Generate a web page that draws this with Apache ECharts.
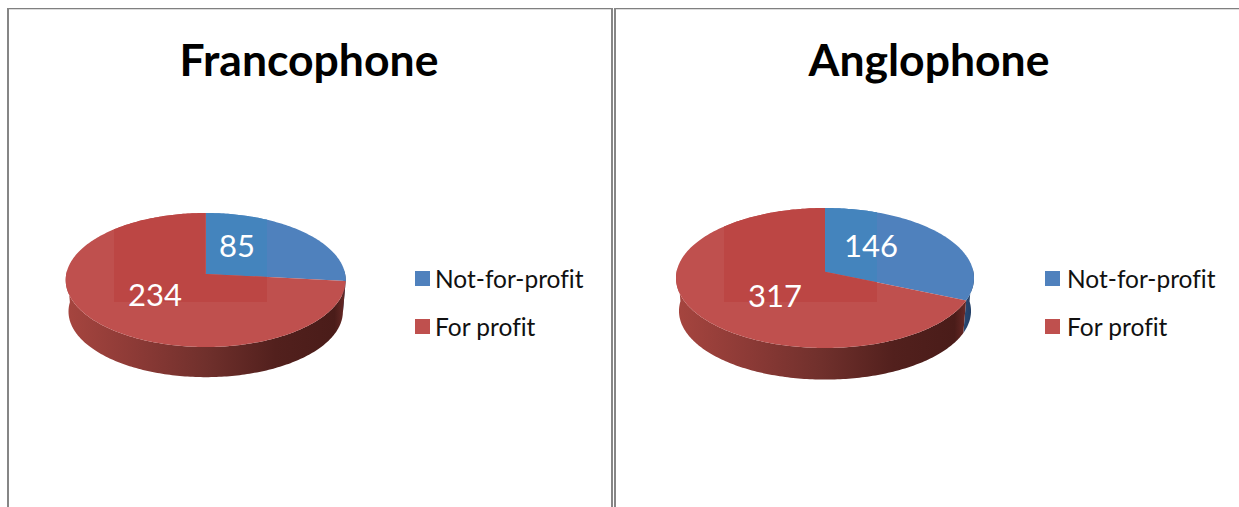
<!DOCTYPE html>
<html>
<head>
<meta charset="utf-8">
<style>
  html, body { margin: 0; padding: 0; background: #fff; }
  #chart { width: 1239px; height: 507px; }
  #chart text { font-variant-ligatures: none !important; }
</style>
<script src="https://cdn.jsdelivr.net/npm/echarts@6/dist/echarts.min.js"></script>
</head>
<body>
<div id="chart"></div>
<script>
var categories = ['Not-for-profit', 'For profit']
var panelTitles = ['Francophone', 'Anglophone']
var francophoneValues = [85, 234]
var anglophoneValues = [146, 317]

var FONT = 'Lato'
var topColors = ['#4f81bd', '#bf504e']
var patchColors = ['#4484bd', '#bc4644']
var wallColors = [
  [[0, '#2a4a75'], [1, '#1f3a5f']],
  [[0, '#a6453f'], [0.25, '#8c3a36'], [0.5, '#70302c'], [0.75, '#52201d'], [0.96, '#4a1c19'], [1, '#6a2a27']]
]

// one entry per pie, where it sits on the page
var pies = [
  { values: francophoneValues, cx: 205.7, cy: 280, rx: 140, ry: 67, depth: 31.5, tilt: -0.09,
    patch: { x: 114, y: 205, width: 153, height: 97 }, labels: [[237, 245], [155, 294]] },
  { values: anglophoneValues, cx: 825, cy: 278, rx: 149, ry: 70, depth: 33, tilt: -0.09,
    patch: { x: 724, y: 200, width: 153, height: 102 }, labels: [[871, 245], [775, 295]] }
]

// circle point (clockwise from 12 o'clock) to the tilted ellipse, centre shifted for perspective
function project (pie, deg) {
  var a = deg * Math.PI / 180
  var u = Math.sin(a)
  var v = -Math.cos(a)
  var d = 1 + pie.tilt * v
  return {
    x: pie.cx + pie.rx * u * Math.sqrt(1 - pie.tilt * pie.tilt) / d,
    y: pie.cy + pie.ry * (v + pie.tilt) / d
  }
}

function rimPoints (pie, from, to) {
  var pts = []
  for (var d = from; d < to; d += 1) {
    var p = project(pie, d)
    pts.push([p.x, p.y])
  }
  var last = project(pie, to)
  pts.push([last.x, last.y])
  return pts
}

function makeRenderItem (pie, sliceIndex) {
  return function (params, api) {
    var value = api.value(0)
    var total = pie.values.reduce(function (s, v) { return s + v }, 0)
    var before = pie.values.slice(0, sliceIndex).reduce(function (s, v) { return s + v }, 0)
    var start = before / total * 360
    var end = start + value / total * 360
    var apexY = pie.cy + pie.ry * pie.tilt
    var top = [[pie.cx, apexY]].concat(rimPoints(pie, start, end))
    var children = []

    // side wall, only the front half of the rim shows
    var wFrom = Math.max(start, 87)
    var wTo = Math.min(end, 273)
    if (wTo > wFrom) {
      var upper = rimPoints(pie, wFrom, wTo)
      var lower = upper.map(function (p) {
        return [pie.cx + (p[0] - pie.cx) * 0.98, pie.cy + (p[1] - pie.cy) * 0.98 + pie.depth]
      }).reverse()
      children.push({
        type: 'polygon',
        shape: { points: upper.concat(lower) },
        style: {
          fill: new echarts.graphic.LinearGradient(0, 0, 1, 0, wallColors[sliceIndex].map(function (s) {
            return { offset: s[0], color: s[1] }
          }))
        }
      })
    }
    children.push({
      type: 'polygon',
      shape: { points: top },
      style: { fill: topColors[sliceIndex] }
    })
    // the slightly different square behind the labels
    children.push({
      type: 'polygon',
      shape: { points: top },
      style: { fill: patchColors[sliceIndex] },
      clipPath: { type: 'rect', shape: pie.patch }
    })
    children.push({
      type: 'text',
      style: {
        x: pie.labels[sliceIndex][0],
        y: pie.labels[sliceIndex][1],
        text: String(value),
        fill: '#fff',
        font: '31px ' + FONT,
        align: 'center',
        verticalAlign: 'middle'
      }
    })
    return { type: 'group', children: children }
  }
}

var series = []
pies.forEach(function (pie) {
  categories.forEach(function (name, i) {
    series.push({
      type: 'custom',
      name: name,
      coordinateSystem: 'none',
      silent: true,
      color: topColors[i],
      itemStyle: { color: topColors[i] },
      renderItem: makeRenderItem(pie, i),
      data: [[pie.values[i]]]
    })
  })
})

function frameLine (x1, y1, x2, y2, color, width) {
  return {
    type: 'line',
    silent: true,
    shape: { x1: x1, y1: y1, x2: x2, y2: y2 },
    style: { stroke: color, lineWidth: width }
  }
}

var myChart = echarts.init(document.getElementById('chart'), null, { renderer: 'svg' })
myChart.setOption({
  animation: false,
  backgroundColor: '#fff',
  title: panelTitles.map(function (t, i) {
    return {
      text: t,
      left: [309, 929][i],
      top: 36,
      textAlign: 'center',
      padding: 0,
      textStyle: { fontFamily: FONT, fontWeight: 'bold', fontSize: 44.5, color: '#000' }
    }
  }),
  legend: [415, 1045].map(function (x, i) {
    return {
      data: categories,
      left: x,
      top: 264,
      orient: 'vertical',
      padding: 0,
      icon: 'rect',
      itemWidth: 15,
      itemHeight: 15,
      itemGap: 19,
      selectedMode: false,
      textStyle: { fontFamily: FONT, fontSize: 24.5, color: '#111', lineHeight: 29, verticalAlign: 'top', padding: [-5, 0, 5, [0, 2][i]] }
    }
  }),
  graphic: [
    frameLine(9, 9.5, 611, 9.5, '#dcdcdc', 1),
    frameLine(616, 9.5, 1239, 9.5, '#dcdcdc', 1),
    frameLine(7, 8.5, 613, 8.5, '#808080', 1),
    frameLine(8, 8, 8, 507, '#868686', 2),
    frameLine(612, 8, 612, 507, '#868686', 2),
    frameLine(614, 8.5, 1239, 8.5, '#808080', 1),
    frameLine(615, 8, 615, 507, '#868686', 2)
  ],
  series: series
})
</script>
</body>
</html>
